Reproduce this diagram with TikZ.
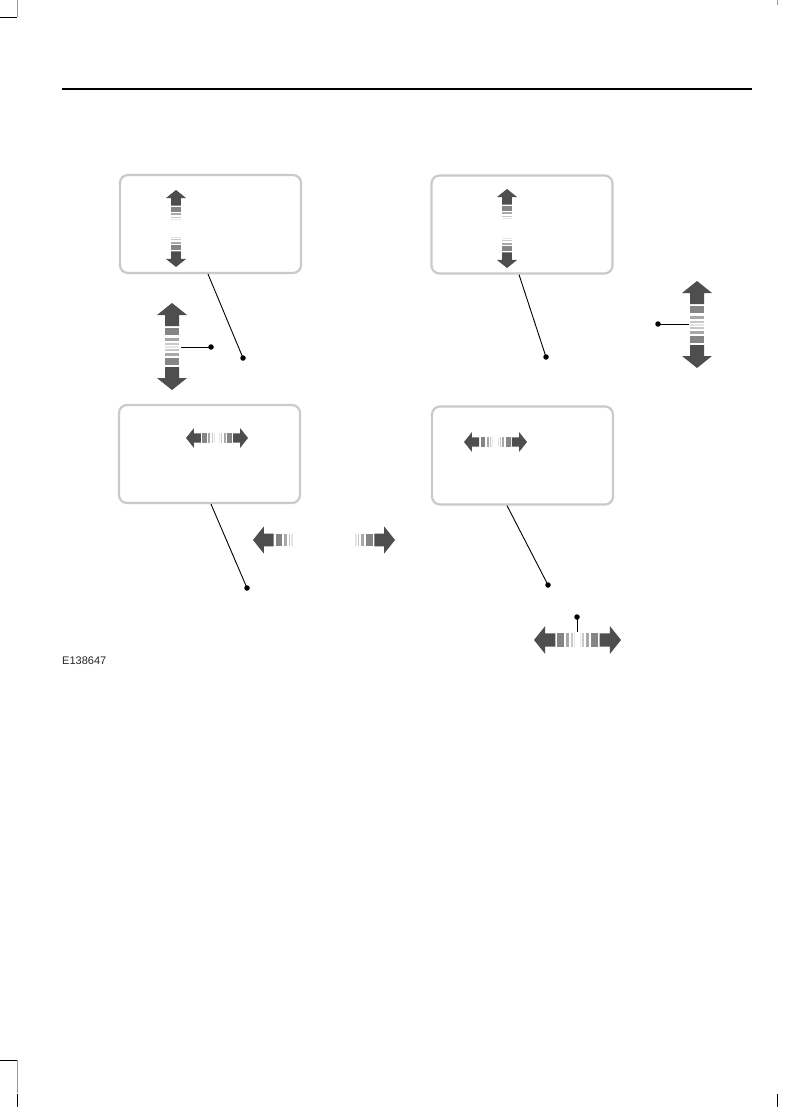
\documentclass[tikz,border=0pt]{standalone}
\usepackage{fontspec}
\setmainfont{Liberation Sans}
\usetikzlibrary{calc}
\definecolor{ahead}{HTML}{4E4E4E}
\definecolor{sa}{HTML}{858585}
\definecolor{sb}{HTML}{A8A8A8}
\definecolor{sc}{HTML}{C8C8C8}
\definecolor{sd}{HTML}{E6E6E6}
\definecolor{boxgray}{HTML}{CACACA}
\definecolor{markgray}{HTML}{9A9A9A}
\tikzset{
  panel/.style={draw=boxgray, line width=2.2pt, rounded corners=8pt, fill=white,
    minimum width=181pt, minimum height=98pt, inner sep=0pt},
  leader/.style={line width=0.9pt, draw=black},
  dotnode/.style={circle, fill=black, inner sep=0pt, minimum size=5.5pt},
  cropmark/.style={line width=0.9pt, draw=black},
  cropthin/.style={line width=0.5pt, draw=markgray},
  half/.pic={
    \fill[ahead] (0,0) -- (15,12) -- (7,12) -- (7,23) -- (-7,23) -- (-7,12) -- (-15,12) -- cycle;
    \fill[sa] (-7,25) rectangle (7,32);
    \fill[sb] (-7,34.5) rectangle (7,37.5);
    \fill[sc] (-7,39.5) rectangle (7,41.5);
    \fill[sd] (-7,42.5) rectangle (7,44);
  }
}
\begin{document}
\begin{tikzpicture}[x=1pt,y=-1pt]
\useasboundingbox (0,0) rectangle (795,1107);
\fill[white] (0,0) rectangle (795,1107);

% crop marks
\draw[cropmark] (0,17) -- (17,17);
\draw[cropthin] (17,0) -- (17,17);
\draw[cropthin] (777,0) -- (777,5);
\draw[cropmark] (0,1060) -- (17,1060);
\draw[cropthin] (17,1060) -- (17,1093);
\draw[cropmark] (17,1094) -- (17,1107);
\draw[cropmark] (777,1094) -- (777,1107);

% header rule
\draw[line width=1.2pt] (62,89) -- (752,89);

% panels
\node[panel] (box1) at (210.5,224) {};
\node[panel] (box2) at (522,224.5) {};
\node[panel] (box3) at (209.5,454) {};
\node[panel] (box4) at (522.5,455.5) {};

% small vertical arrows in top panels
\pic[scale=.68] (b1up) at (176,190) {half};
\pic[scale=.68, rotate=180] (b1dn) at (176,267) {half};
\pic[scale=.68] (b2up) at (507,189) {half};
\pic[scale=.68, rotate=180] (b2dn) at (507,268) {half};

% small horizontal arrows in lower panels
\pic[scale=.65, rotate=90] (b3l) at (186,438) {half};
\pic[scale=.65, rotate=-90] (b3r) at (248,438) {half};
\pic[scale=.66, rotate=90] (b4l) at (464,442) {half};
\pic[scale=.66, rotate=-90] (b4r) at (527,442) {half};

% large vertical arrows
\pic (lvup) at (172,303) {half};
\pic[rotate=180] (lvdn) at (172,390) {half};
\pic (rvup) at (697,281) {half};
\pic[rotate=180] (rvdn) at (697,368) {half};

% large horizontal pair
\pic[scale=.9, rotate=90] (hl) at (253,540) {half};
\pic[scale=.9, rotate=-90] (hr) at (395,540) {half};

% bottom double arrow
\pic[scale=.93, rotate=90] (bdl) at (534,640) {half};
\pic[scale=.93, rotate=-90] (bdr) at (621,640) {half};

% leader dots
\node[dotnode] (d1) at (243,358) {};
\node[dotnode] (d2) at (546,357) {};
\node[dotnode] (d3) at (247,588) {};
\node[dotnode] (d4) at (548,585) {};
\node[dotnode] (dl) at (211,347) {};
\node[dotnode] (dr) at (658,324) {};
\node[dotnode] (db) at (577,617) {};
\coordinate (al) at (181,347);
\coordinate (ar) at (689,324);
\coordinate (ab) at (577,632);

% leaders
\draw[leader] ($(box1.south)+(-2.5,0)$) -- (d1.center);
\draw[leader] ($(box2.south)+(-3,0)$) -- (d2.center);
\draw[leader] ($(box3.south)+(1.5,0)$) -- (d3.center);
\draw[leader] ($(box4.south)+(-15.5,0)$) -- (d4.center);
\draw[leader] (al) -- (dl.center);
\draw[leader] (ar) -- (dr.center);
\draw[leader] (ab) -- (db.center);

% figure code
\node[anchor=west, inner sep=0pt, font=\fontsize{11}{13}\selectfont, text=black!85] (code) at (62,661) {E138647};
\end{tikzpicture}
\end{document}
